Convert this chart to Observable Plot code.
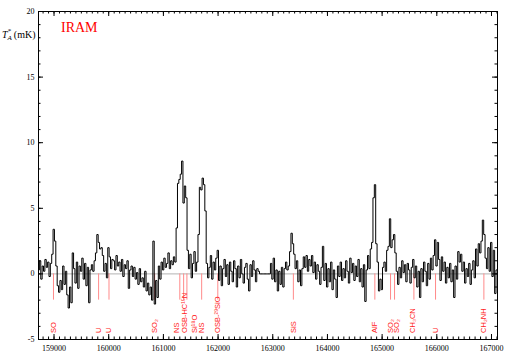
<!DOCTYPE html>
<html><head><meta charset="utf-8">
<script src="https://cdn.jsdelivr.net/npm/d3@7"></script>
<script src="https://cdn.jsdelivr.net/npm/@observablehq/plot@0.6"></script>
<style>html,body{margin:0;padding:0;background:#fff}#chart{width:509px;height:356px}</style>
</head><body><div id="chart"></div>
<script>
// Spectrum: channel start frequency (MHz), channel width (MHz), intensities T*A (mK)
const freqStart = 158720;
const freqStep = 25;
const intensity = [
  0.3, 1.0, -0.4, 0.6, 0.2, 1.1, 0.5, 0.9, -0.2, 0.8, 1.5, 3.4,
  2.5, 0.6, -0.9, -1.4, -0.5, -1.2, 0.6, -0.8, 0.2, -1.6, -2.6, -1.0,
  -2.2, 1.6, 0.4, -0.7, 0.9, -1.1, 0.6, 0.2, 1.2, -0.4, 0.8, -0.9,
  0.5, -2.2, 0.3, 0.7, 0.2, 1.0, 1.6, 3.0, 2.4, 1.9, 2.0, 1.4,
  0.2, 0.8, -0.3, 2.0, 1.3, 0.4, 1.1,
  1.0, 0.3, 1.4, 0.6, 0.9, 0.2, 1.1, -0.2, 0.7, 0.4, 1.0, -1.1,
  0.3, 0.6, -0.2, 0.5, -0.4, 0.1, -0.8, 0.4, -0.6, -0.3, -1.0, 0.2,
  -1.3, -0.7, -1.6, -1.0, -2.0, 2.5, -2.3, -0.5, -1.8, 0.6, -0.4, 0.9,
  0.3, 1.2, 0.5, 0.8, 1.6, 0.4, 1.0, 0.7, 1.3,
  0.9, 3.5, 6.9, 7.2, 7.6, 8.6, 5.4, 6.7, 5.8, 1.8, 0.4,
  1.5, -0.3, 0.8, 1.7, 0.2, 0.9, 3.0, 6.6, 6.4, 7.3, 6.8, 4.8, 0.8,
  -0.3, 0.5, 1.4, -0.4, 0.9, 0.3, 1.2, 1.8, -0.5, 0.6,
  -0.9, 0.4, 1.1, -0.2, 0.7, -0.8, 0.9, 0.2, -0.6, 1.0,
  0.4, -1.0, 0.6, -0.3, 1.1, 0.0, -0.7, 0.5, 0.8, -0.4,
  -1.3, 0.7, -0.2, 1.0, 0.3, -0.6, 0.4, 0.2,
  0, 0, 0, 0, 0, 0, 0, 0,
  0.8, -0.4, 1.2, -0.6, 0.3, -1.3, 0.2, -0.8, 0.5, -1.0,
  0.4, 0.9, 0.3, 0.6, 1.7, 3.1, 2.3, 1.5, 0.4, 1.0,
  -0.6, 0.3, -0.9, 0.4, 1.3, 0.5, 1.4, 0.2, 1.1, 0.6,
  1.4, 0.1, 0.9, -0.4, 0.7, 0.2, -0.8, 0.5, 2.1, -0.5,
  0.8, -1.0, 0.4, -0.6, 0.9, -1.2, 0.3, -0.4, -1.8, 0.6,
  -0.2, 0.9, -0.5, 0.4,
  -0.3, 1.0, 0.2, -0.7, 1.2, 0.1, 0.8, -0.5, 0.6, -0.2,
  1.1, -0.6, 0.4, -1.0, 0.7, -2.1, 0.3, 1.4, 0.4, 1.9,
  2.4, 5.8, 6.8, 2.3, 0.9, -1.3, -0.4, -1.2, 0.5, 0.9,
  0.2, 1.8, 2.1, 4.2, 2.0, 2.6, 3.0, 1.6, 0.2, -0.8,
  0.5, -0.3, 1.0, 0.1, 0.7, -0.6, 0.8, 0.3, -0.7, 0.5,
  1.1, -0.3, 0.6, -1.0, 0.2, -1.8, 0.4, -0.6, 0.9, 0.2,
  -0.9, 0.8, -0.4, 1.2, 0.3, 1.4, 2.6, 0.6, 2.4, 1.1,
  -0.5, 1.3, 0.2, 0.9, -0.7, 0.5, -0.3, 0.8, -0.6, 0.3,
  -1.8, 0.6, -0.4, 1.7, 0.9, 1.5, 0.2, 0.9, -0.7, 0.4,
  -0.2, 0.8, -0.8, 0.3, 1.0, -0.3, 1.9, 0.6, 2.3, 1.6,
  2.5, 4.1, 3.0, 1.2, 0.4, 2.0, 0.2, 2.4, -0.2, 1.8,
  -1.5, 0.3
];

// Identified lines (MHz) and their labels
const lineFreqs  = [158990, 159815, 160005, 160840, 161300, 161370, 161430, 161700, 161995, 163377, 164867, 165154, 165227, 165581, 165977, 166861];
const labelFreqs = [158990, 159815, 160005, 160840, 161245, 161385, 161565, 161700, 162000, 163377, 164867, 165154, 165270, 165560, 165977, 166850];
const labelNames = ["SO", "U", "U", "SO₂", "NS", "OSB-HC¹⁵N", "Si¹⁸O", "NS", "OSB-²⁹SiO", "SiS", "AlF", "SO₂", "SO₂", "CH₃CN", "U", "CH₂NH"];

// Axis ticks
const xMajorTicks = [159000, 160000, 161000, 162000, 163000, 164000, 165000, 166000, 167000];
const xMinorTicks = d3.range(158800, 167101, 100);
const yMajorTicks = [-5, 0, 5, 10, 15, 20];
const yMinorTicks = d3.range(-5, 20.01, 1);

const spectrum = intensity.map((v, i) => ({f: freqStart + i * freqStep, v}));
const labels = labelNames.map((name, i) => ({f: labelFreqs[i], name}));

const W = 509, H = 356, mL = 38, mR = 12, mT = 11, mB = 17;
const ph = H - mT - mB, pw = W - mL - mR;
const majorLen = 5, minorLen = 2.5;

const chart = Plot.plot({
  width: W, height: H,
  marginLeft: mL, marginRight: mR, marginTop: mT, marginBottom: mB,
  x: {domain: [158716, 167110]},
  y: {domain: [-5, 20]},
  style: {fontFamily: "'Liberation Serif', 'DejaVu Serif', serif", fontSize: "8px", background: "#fff", color: "#000"},
  marks: [
    Plot.ruleY([0], {stroke: "#a0a0a0", strokeWidth: 0.8}),
    Plot.ruleX(lineFreqs, {x: d => d, y1: 0, y2: -2, stroke: "#ff8a8a", strokeWidth: 1}),
    Plot.line(spectrum, {x: "f", y: "v", curve: "step", stroke: "#000", strokeWidth: 1}),
    Plot.text(labels, {x: "f", y: -4.5, text: "name", rotate: -90, textAnchor: "start",
      fill: "#ff2020", fontFamily: "'Liberation Sans', Arial, sans-serif", fontSize: 7.5}),
    Plot.frame({stroke: "#000", strokeWidth: 1}),
    // inward ticks on all four sides
    Plot.tickX(xMajorTicks, {x: d => d, insetTop: ph - majorLen, stroke: "#000"}),
    Plot.tickX(xMinorTicks, {x: d => d, insetTop: ph - minorLen, stroke: "#000"}),
    Plot.tickX(xMajorTicks, {x: d => d, insetBottom: ph - majorLen, stroke: "#000"}),
    Plot.tickX(xMinorTicks, {x: d => d, insetBottom: ph - minorLen, stroke: "#000"}),
    Plot.tickY(yMajorTicks, {y: d => d, insetRight: pw - majorLen, stroke: "#000"}),
    Plot.tickY(yMinorTicks, {y: d => d, insetRight: pw - minorLen, stroke: "#000"}),
    Plot.tickY(yMajorTicks, {y: d => d, insetLeft: pw - majorLen, stroke: "#000"}),
    Plot.tickY(yMinorTicks, {y: d => d, insetLeft: pw - minorLen, stroke: "#000"}),
    Plot.axisX({ticks: xMajorTicks, tickSize: 0, tickPadding: 6, tickFormat: d => String(d), label: null}),
    Plot.axisY({ticks: yMajorTicks, tickSize: 0, tickPadding: 4, tickFormat: d => String(d), label: null})
  ]
});

const svg = d3.select(chart);
// Y-axis title T*_A (mK)
const yt = svg.append("text").attr("x", 2).attr("y", 38).attr("text-anchor", "start")
  .attr("font-family", "'Liberation Serif', serif").attr("font-size", 10).attr("fill", "#000");
yt.append("tspan").attr("font-style", "italic").text("T");
yt.append("tspan").attr("font-style", "italic").attr("font-size", 7).attr("dy", 2).text("A");
yt.append("tspan").attr("font-size", 7).attr("dx", -4).attr("dy", -7).text("*");
yt.append("tspan").attr("dy", 5).text(" (mK)");
// Telescope title
svg.append("text").attr("x", 61).attr("y", 32).attr("text-anchor", "start")
  .attr("font-family", "'Liberation Serif', serif").attr("font-size", 14).attr("fill", "#ff0000")
  .text("IRAM");

document.getElementById("chart").append(chart);
</script>
</body></html>
